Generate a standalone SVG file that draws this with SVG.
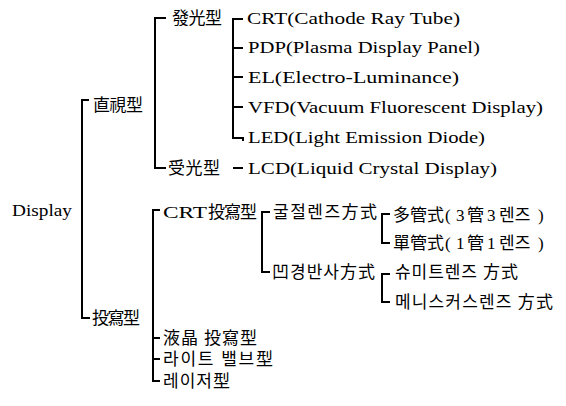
<svg xmlns="http://www.w3.org/2000/svg" width="566" height="406" viewBox="0 0 566 406">
<style>
text{font-family:"Liberation Serif","Noto Sans CJK KR","Noto Sans CJK JP",serif;font-size:17px;fill:#000}
.lat{font-size:17.5px}
#connectors path{fill:none;stroke:#000;stroke-width:2;stroke-linejoin:miter}
</style>
<rect width="566" height="406" fill="#fff"/>
<g id="connectors">
<path d="M89,100 H82 V318 H90"/>
<path d="M166,18 H155 V168 H166"/>
<path d="M243,19 H233 V138 H243 v3"/>
<path d="M233,48 H243 M233,77 H243 M233,107 H243"/>
<path d="M233,168 H243"/>
<path d="M160,210 H153 V381 H160"/>
<path d="M153,338 H160 M153,359 H160"/>
<path d="M270,212 H262 V272 H270"/>
<path d="M390,214 H382 V243 H390"/>
<path d="M390,274 H382 V302 H390"/>
</g>
<g id="n-display"><text class="lat" x="12" y="216" textLength="60" lengthAdjust="spacingAndGlyphs">Display</text></g>
<g id="n-direct"><text x="93" y="111" textLength="50" lengthAdjust="spacing">直視型</text></g>
<g id="n-proj"><text x="92" y="324" textLength="48" lengthAdjust="spacing">投寫型</text></g>
<g id="n-emit"><text x="172" y="24" textLength="50" lengthAdjust="spacing">發光型</text></g>
<g id="n-recv"><text x="168" y="174" textLength="52" lengthAdjust="spacing">受光型</text></g>
<g id="n-crt"><text class="lat" x="247" y="24" textLength="213" lengthAdjust="spacingAndGlyphs">CRT(Cathode Ray Tube)</text></g>
<g id="n-pdp"><text class="lat" x="248" y="53" textLength="232" lengthAdjust="spacingAndGlyphs">PDP(Plasma Display Panel)</text></g>
<g id="n-el"><text class="lat" x="248" y="83" textLength="211" lengthAdjust="spacingAndGlyphs">EL(Electro-Luminance)</text></g>
<g id="n-vfd"><text class="lat" x="248" y="113" textLength="295" lengthAdjust="spacingAndGlyphs">VFD(Vacuum Fluorescent Display)</text></g>
<g id="n-led"><text class="lat" x="248" y="143" textLength="237" lengthAdjust="spacingAndGlyphs">LED(Light Emission Diode)</text></g>
<g id="n-lcd"><text class="lat" x="248" y="174" textLength="249" lengthAdjust="spacingAndGlyphs">LCD(Liquid Crystal Display)</text></g>
<g id="n-crtproj"><text x="163" y="218"><tspan class="lat" x="163" textLength="44" lengthAdjust="spacingAndGlyphs">CRT</tspan><tspan x="208" textLength="49" lengthAdjust="spacing">投寫型</tspan></text></g>
<g id="n-lcdproj"><text x="163" y="344" textLength="94" lengthAdjust="spacing">液晶 投寫型</text></g>
<g id="n-lightvalve"><text x="163" y="365" textLength="110" lengthAdjust="spacing">라이트 밸브型</text></g>
<g id="n-laser"><text x="163" y="387" textLength="67" lengthAdjust="spacing">레이저型</text></g>
<g id="n-refract"><text x="273" y="218" textLength="104" lengthAdjust="spacing">굴절렌즈方式</text></g>
<g id="n-reflect"><text x="272" y="278" textLength="103" lengthAdjust="spacing">凹경반사方式</text></g>
<g id="n-multi"><text x="393" y="221">多管式<tspan x="445">(</tspan><tspan x="456">3</tspan><tspan x="467">管</tspan><tspan x="487">3</tspan><tspan x="499">렌즈</tspan><tspan x="538">)</tspan></text></g>
<g id="n-single"><text x="393" y="249">單管式<tspan x="445">(</tspan><tspan x="456">1</tspan><tspan x="467">管</tspan><tspan x="487">1</tspan><tspan x="499">렌즈</tspan><tspan x="538">)</tspan></text></g>
<g id="n-schmidt"><text x="395" y="278" textLength="123" lengthAdjust="spacing">슈미트렌즈 方式</text></g>
<g id="n-meniscus"><text x="395" y="308" textLength="158" lengthAdjust="spacing">메니스커스렌즈 方式</text></g>
</svg>
